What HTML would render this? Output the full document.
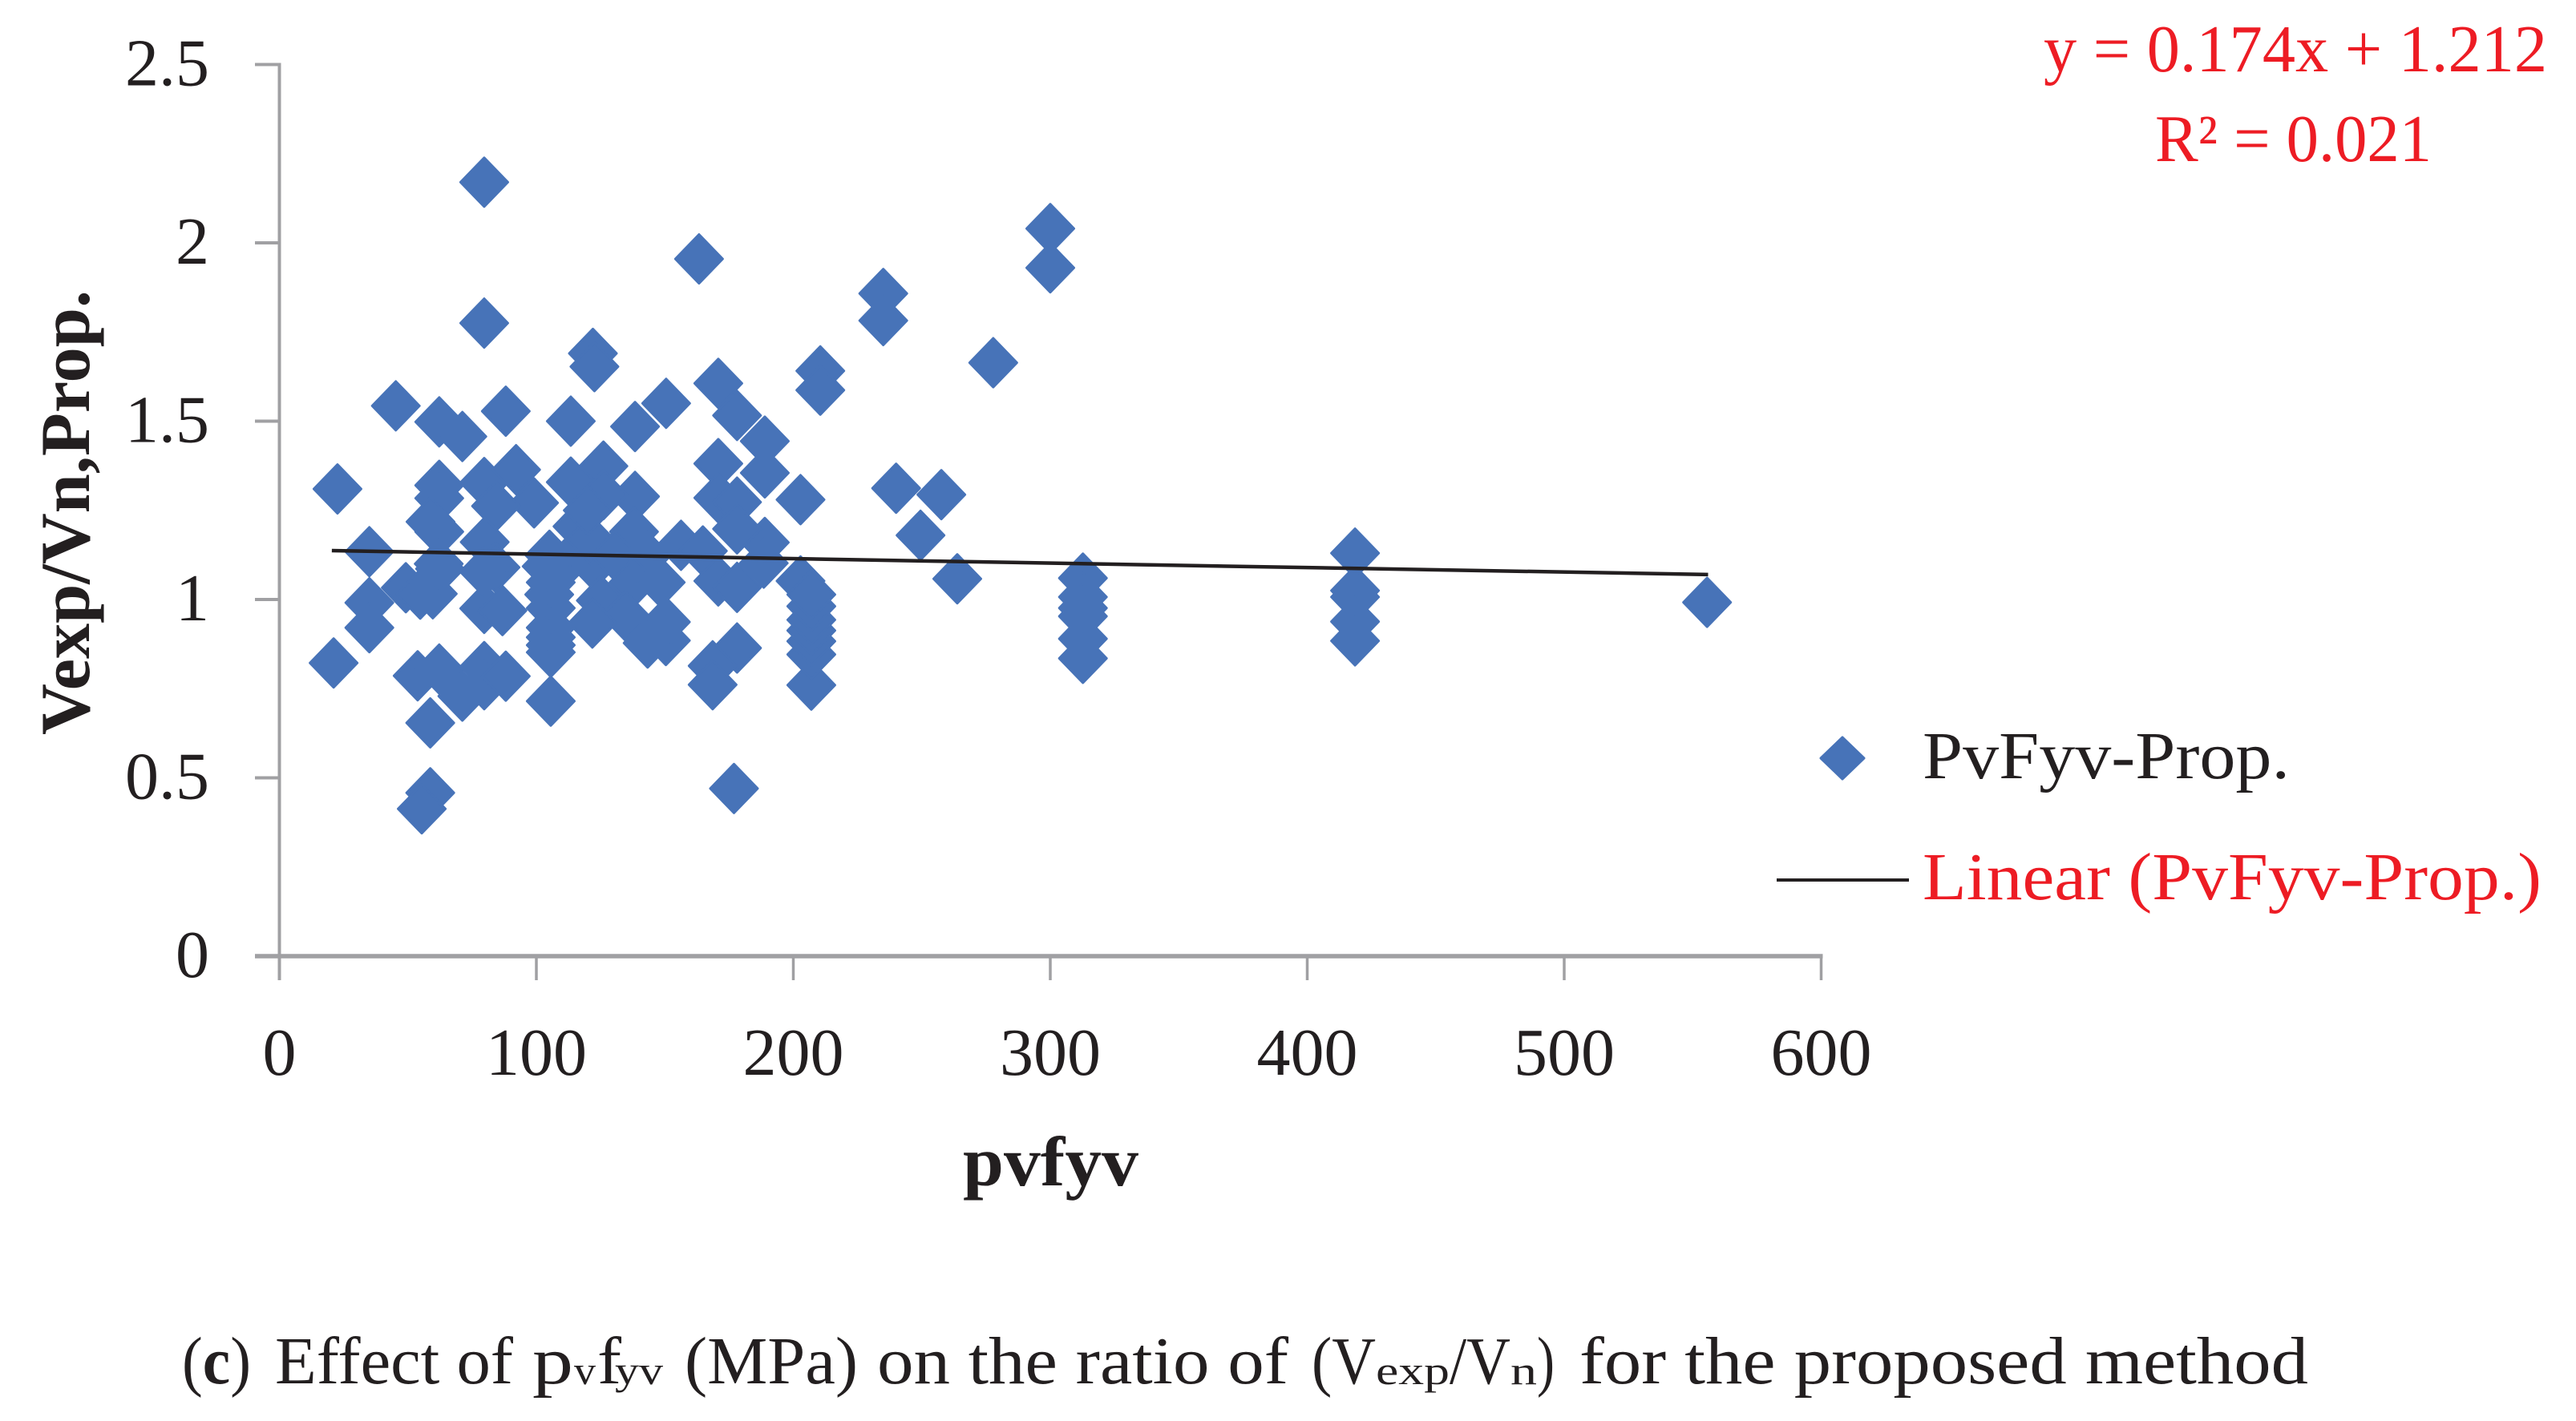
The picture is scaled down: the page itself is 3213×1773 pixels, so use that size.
<!DOCTYPE html>
<html lang="en">
<head>
<meta charset="utf-8">
<title>Effect of pvfyv on Vexp/Vn for the proposed method</title>
<style>
html,body{margin:0;padding:0;background:#fff;width:3213px;height:1773px;overflow:hidden}
svg{display:block}
text{font-family:"Liberation Serif","Times New Roman",serif;fill:#231f20}
</style>
</head>
<body>
<svg id="chart" xmlns="http://www.w3.org/2000/svg" width="3213" height="1773" viewBox="0 0 3213 1773">
  <rect x="0" y="0" width="3213" height="1773" fill="#ffffff"/>
  <g id="axes"></g>
  <g id="points"></g>
  <g id="trend"></g>
  <g id="ticklabels"></g>

  <text transform="translate(111,917) rotate(-90)" font-size="88" font-weight="700" textLength="555" lengthAdjust="spacingAndGlyphs">Vexp/Vn,Prop.</text>
  <text x="1201" y="1479" font-size="88" font-weight="700" textLength="219" lengthAdjust="spacingAndGlyphs">pvfyv</text>

  <text x="2549" y="89" font-size="84" style="fill:#ed1c24" textLength="628" lengthAdjust="spacingAndGlyphs">y = 0.174x + 1.212</text>
  <text x="2688" y="201" font-size="84" style="fill:#ed1c24" textLength="345" lengthAdjust="spacingAndGlyphs">R² = 0.021</text>

  <g>
    <path d="M2298 920 L2325 946 L2298 972 L2271 946 Z" fill="#4773b8" stroke="#4773b8" stroke-width="3" stroke-linejoin="round"/>
    <text x="2398" y="971" font-size="84" textLength="458" lengthAdjust="spacingAndGlyphs">PvFyv-Prop.</text>
    <line x1="2216" y1="1098" x2="2381" y2="1098" stroke="#231f20" stroke-width="4"/>
    <text x="2398" y="1122" font-size="84" style="fill:#ed1c24" textLength="772" lengthAdjust="spacingAndGlyphs">Linear (PvFyv-Prop.)</text>
  </g>

  <g font-size="84">
    <text x="227" y="1726" textLength="86" lengthAdjust="spacingAndGlyphs">(<tspan font-weight="700">c</tspan>)</text>
    <text x="343" y="1726" textLength="297" lengthAdjust="spacingAndGlyphs">Effect of</text>
    <text x="664" y="1726" textLength="51" lengthAdjust="spacingAndGlyphs">p</text>
    <text x="716" y="1727" font-size="50" textLength="27" lengthAdjust="spacingAndGlyphs">v</text>
    <text x="745" y="1726" textLength="30" lengthAdjust="spacingAndGlyphs">f</text>
    <text x="767" y="1727" font-size="50" textLength="60" lengthAdjust="spacingAndGlyphs">yv</text>
    <text x="854" y="1726" textLength="216" lengthAdjust="spacingAndGlyphs">(MPa)</text>
    <text x="1094" y="1726" textLength="513" lengthAdjust="spacingAndGlyphs">on the ratio of</text>
    <text x="1636" y="1726" textLength="80" lengthAdjust="spacingAndGlyphs">(V</text>
    <text x="1716" y="1727" font-size="50" textLength="92" lengthAdjust="spacingAndGlyphs">exp</text>
    <text x="1808" y="1726" textLength="76" lengthAdjust="spacingAndGlyphs">/V</text>
    <text x="1884" y="1727" font-size="50" textLength="33" lengthAdjust="spacingAndGlyphs">n</text>
    <text x="1917" y="1726" textLength="22" lengthAdjust="spacingAndGlyphs">)</text>
    <text x="1970" y="1726" textLength="909" lengthAdjust="spacingAndGlyphs">for the proposed method</text>
  </g>
</svg>
<script>
const xTickValues = [0, 100, 200, 300, 400, 500, 600];
const yTickValues = [0, 0.5, 1, 1.5, 2, 2.5];
const trendXValues = [20.4, 556];
const trendYValues = [1.137, 1.07];
const pvfyvValues = [
  22.6, 21.1, 45.3, 62.2, 71.2, 88.1, 113.4, 138.4, 150.5, 122, 122.6, 170.8, 178.1, 188.9, 210.5, 210.5,
  202.8, 79.7, 79.7, 163.3, 300, 300, 235, 235, 277.8, 240, 257.6, 249.5, 263.8,
  62.2, 62.2, 58.8, 62.2, 79.7, 92.1, 99.1, 84.3, 79.9,
  113.4, 126.1, 138.4, 126.1, 116, 138, 105.1, 156.3, 164.8, 122.2, 111.8, 121.1, 130.5, 143, 120,
  137.8, 148.4, 125.1, 134.6, 150.4, 150.4, 143.3, 121.8,
  105.6, 105.6, 105.6, 105.6, 105.6, 105.6, 105, 105.6, 104,
  170.8, 170.8, 188.9, 178.1, 188.9, 178.1, 170.8, 178.1, 188.5, 178.1, 168.6, 168.6,
  35, 35, 35, 49.2, 54.8, 59.7, 62.5, 62, 58.7, 53.8, 62.2, 71.2, 79.7, 79.7, 88.1,
  79.7, 86.8, 84.1, 79.6,
  202.8, 207, 207, 207, 207, 207, 207, 207,
  312.7, 312.7, 312.7, 312.7, 312.7, 312.7,
  418.6, 418.6, 418.6, 418.6, 418.6,
  555.6, 58.7, 55.4, 176.9
];
const ratioValues = [
  1.31, 0.822, 1.543, 1.498, 1.457, 1.528, 1.5, 1.485, 1.55, 1.69, 1.653, 1.606, 1.516, 1.444, 1.641, 1.587,
  1.28, 2.17, 1.775, 1.955, 2.04, 1.93, 1.858, 1.782, 1.664, 1.312, 1.294, 1.18, 1.058,
  1.32, 1.284, 1.218, 1.19, 1.328, 1.364, 1.271, 1.262, 1.161,
  1.329, 1.374, 1.289, 1.294, 1.205, 1.19, 1.124, 1.152, 1.136, 1.097, 1.104, 1.168, 1.123, 1.123, 1.25,
  1.048, 1.048, 0.997, 0.954, 0.937, 0.885, 0.878, 0.934,
  0.715, 0.852, 0.872, 0.894, 0.921, 0.976, 1.014, 1.048, 1.093,
  1.381, 1.285, 1.355, 1.273, 1.16, 1.198, 1.052, 1.034, 1.102, 0.864, 0.814, 0.761,
  1.134, 0.991, 0.921, 1.033, 1.015, 1.016, 1.086, 1.1, 0.654, 0.786, 0.805, 0.729, 0.812, 0.761, 0.785,
  0.975, 0.969, 1.09, 1.078,
  1.052, 0.76, 0.846, 0.883, 0.913, 0.943, 0.981, 1.014,
  1.06, 1.007, 0.976, 0.953, 0.89, 0.835,
  1.13, 1.025, 1.007, 0.938, 0.884,
  0.992, 0.458, 0.413, 0.47
];

const NS = 'http://www.w3.org/2000/svg';
function xScale(v) { return 348.5 + 3.205 * v; }
function yScale(v) { return 1193 - 445 * v; }
function make(tag, parentId, props) {
  const el = document.createElementNS(NS, tag);
  for (const k in props) { el.setAttribute(k, props[k]); }
  document.getElementById(parentId).appendChild(el);
  return el;
}

const axisStroke = '#a0a0a3';

const yAxisLine = make('line', 'axes', { x1: xScale(0), x2: xScale(0), y1: yScale(2.5) - 2, y2: 1223, stroke: axisStroke, 'stroke-width': 4 });



const xAxisLine = make('line', 'axes', { x1: 318, x2: xScale(600) + 2, y1: yScale(0), y2: yScale(0), stroke: axisStroke, 'stroke-width': 5.5 });



yTickValues.forEach(function (v) {
  const tick = make('line', 'axes', { x1: 318, x2: xScale(0), y1: yScale(v), y2: yScale(v), stroke: axisStroke, 'stroke-width': 4 });
  
  
  const label = make('text', 'ticklabels', { x: 261, y: yScale(v) + 26, 'font-size': 84, 'text-anchor': 'end' });
  label.textContent = String(v);
  
  
});

xTickValues.forEach(function (v) {
  const tick = make('line', 'axes', { x1: xScale(v), x2: xScale(v), y1: yScale(0), y2: 1223, stroke: axisStroke, 'stroke-width': 3.5 });
  
  
  const label = make('text', 'ticklabels', { x: xScale(v), y: 1341, 'font-size': 84, 'text-anchor': 'middle' });
  label.textContent = String(v);
  
  
});

const R = 29.5;
pvfyvValues.forEach(function (xv, i) {
  const cx = xScale(xv);
  const cy = yScale(ratioValues[i]);
  const d = 'M' + cx + ' ' + (cy - R - 1) + ' L' + (cx + R) + ' ' + cy + ' L' + cx + ' ' + (cy + R + 1) + ' L' + (cx - R) + ' ' + cy + ' Z';
  const mark = make('path', 'points', { d: d, fill: '#4773b8', stroke: '#4773b8', 'stroke-width': 3, 'stroke-linejoin': 'round' });
  
  
});

const trendLine = make('line', 'trend', { x1: xScale(trendXValues[0]), y1: yScale(trendYValues[0]), x2: xScale(trendXValues[1]), y2: yScale(trendYValues[1]), stroke: '#231f20', 'stroke-width': 4.5 });


</script>
</body>
</html>
